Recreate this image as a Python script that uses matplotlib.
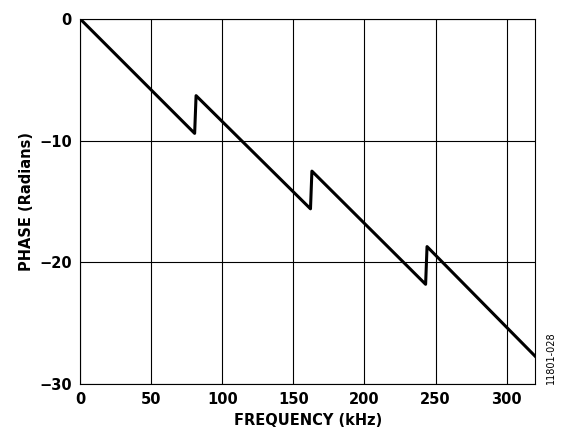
import matplotlib
matplotlib.use('Agg')
import matplotlib.pyplot as plt

# Phase vs frequency
freq_khz = [0, 80.5, 81.5, 162, 163, 243, 244, 320]
phase_rad = [0, -9.4, -6.3, -15.6, -12.5, -21.8, -18.7, -27.7]

x_ticks = [0, 50, 100, 150, 200, 250, 300]
y_ticks = [0, -10, -20, -30]

fig = plt.figure(figsize=(5.65, 4.41), dpi=100)
ax = fig.add_axes([0.142, 0.129, 0.805, 0.828])

ax.plot(freq_khz, phase_rad, color='black', linewidth=2.2)

ax.set_xlim(0, 320)
ax.set_ylim(-30, 0)
ax.set_xticks(x_ticks)
ax.set_yticks(y_ticks)
ax.set_yticklabels(['0', '\u221210', '\u221220', '\u221230'])
ax.grid(True, color='black', linewidth=0.8)
ax.tick_params(length=0, labelsize=10.5, pad=6)
for lab in ax.get_xticklabels() + ax.get_yticklabels():
    lab.set_fontweight('bold')
for s in ax.spines.values():
    s.set_linewidth(0.8)

ax.set_xlabel('FREQUENCY (kHz)', fontsize=10.5, fontweight='bold')
ax.set_ylabel('PHASE (Radians)', fontsize=10.5, fontweight='bold')

fig.text(0.975, 0.13, '11801-028', rotation=90, fontsize=7, ha='center', va='bottom')

fig.savefig('out.png', dpi=100)
